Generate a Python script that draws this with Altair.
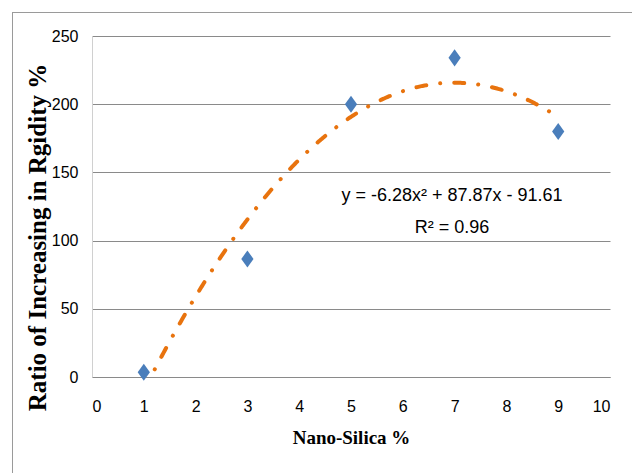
import altair as alt
import pandas as pd

# Measured rigidity increase for each nano-silica dosage
nano_silica = [1, 3, 5, 7, 9]
rigidity_increase = [3.5, 86.5, 200, 234, 180]

# Second-order polynomial trendline: y = a*x^2 + b*x + c
trend_coeffs = [-6.28, 87.87, -91.61]
trend_r2 = 0.96
trend_start, trend_stop = 1, 9

x_ticks = list(range(0, 11))
y_ticks = [0, 50, 100, 150, 200, 250]

eq_lines = [
    f"y = {trend_coeffs[0]:.2f}x\u00b2 + {trend_coeffs[1]:.2f}x - {abs(trend_coeffs[2]):.2f}",
    f"R\u00b2 = {trend_r2:.2f}",
]

points = pd.DataFrame({"x": nano_silica, "y": rigidity_increase})

LABEL_FONT = "Liberation Sans Narrow, Liberation Sans, Arial"
TITLE_FONT = "Liberation Serif, Times New Roman"
GRID = "#8a8a8a"

x_scale = alt.Scale(domain=[0, 10], nice=False)
y_scale = alt.Scale(domain=[0, 250], nice=False)

x_enc = alt.X(
    "x:Q",
    scale=x_scale,
    axis=alt.Axis(
        values=x_ticks, format="d", grid=False, ticks=False,
        domainColor=GRID, domainWidth=1,
        labelFont=LABEL_FONT, labelFontSize=16, labelColor="#000000",
        labelPadding=21,
        title="Nano-Silica %", titleFont=TITLE_FONT, titleFontSize=19,
        titleFontWeight="bold", titleColor="#000000", titlePadding=14,
    ),
)
y_enc = alt.Y(
    "y:Q",
    scale=y_scale,
    axis=alt.Axis(
        values=y_ticks, format="d", grid=True, gridColor=GRID, gridWidth=1,
        ticks=False, domainColor="#d0d0d0", domainWidth=1,
        labelFont=LABEL_FONT, labelFontSize=16, labelColor="#000000",
        labelPadding=14,
        title="Ratio of Increasing in Rgidity %", titleFont=TITLE_FONT,
        titleFontSize=25, titleFontWeight="bold", titleColor="#000000",
        titleX=-55, titleY=201, titleAlign="center", titleBaseline="middle",
        titleAngle=270,
    ),
)

# Data markers: tall blue diamonds
markers = alt.Chart(points).mark_point(
    shape="M0,-1.4L1,0L0,1.4L-1,0Z", size=150, filled=True,
    color="#4a7ebb", opacity=1, strokeWidth=0,
).encode(x=x_enc, y=y_enc)

# Trendline evaluated from the stated polynomial
a, b, c = trend_coeffs
trend = alt.Chart(
    alt.sequence(trend_start, trend_stop + 0.001, 0.02, as_="x")
).transform_calculate(
    y=f"{a}*datum.x*datum.x + {b}*datum.x + ({c})"
).mark_line(
    color="#e8730e", strokeWidth=4, strokeCap="round",
    strokeDash=[10, 14, 0.1, 14], clip=True,
).encode(x=alt.X("x:Q", scale=x_scale), y=alt.Y("y:Q", scale=y_scale))

# Trendline equation and R² annotation, one text mark per line
eq_df = pd.DataFrame({"line": eq_lines})
eq_y = [160, 192]
equation = [
    alt.Chart(eq_df.iloc[[i]]).mark_text(
        font=LABEL_FONT, fontSize=18, color="#000000", align="center",
        baseline="middle",
    ).encode(x=alt.value(360), y=alt.value(eq_y[i]), text="line:N")
    for i in range(len(eq_lines))
]

# Outer chart frame (left and top edges)
frame_left = alt.Chart(points).mark_rule(color="#9a9a9a", strokeWidth=1, clip=False).encode(
    x=alt.value(-79.5), y=alt.value(-23.5), y2=alt.value(440)
)
frame_top = alt.Chart(points).mark_rule(color="#9a9a9a", strokeWidth=1, clip=False).encode(
    x=alt.value(-79.5), x2=alt.value(545), y=alt.value(-23.5)
)

chart = alt.layer(
    frame_left, frame_top, markers, trend, *equation
).properties(
    width=518, height=341,
    autosize=alt.AutoSizeParams(type="none"),
    padding={"left": 92, "top": 36, "right": 22, "bottom": 96},
    background="#ffffff",
).configure_view(stroke=None)

chart.save("out.html", embed_options={"renderer": "svg", "actions": False})
